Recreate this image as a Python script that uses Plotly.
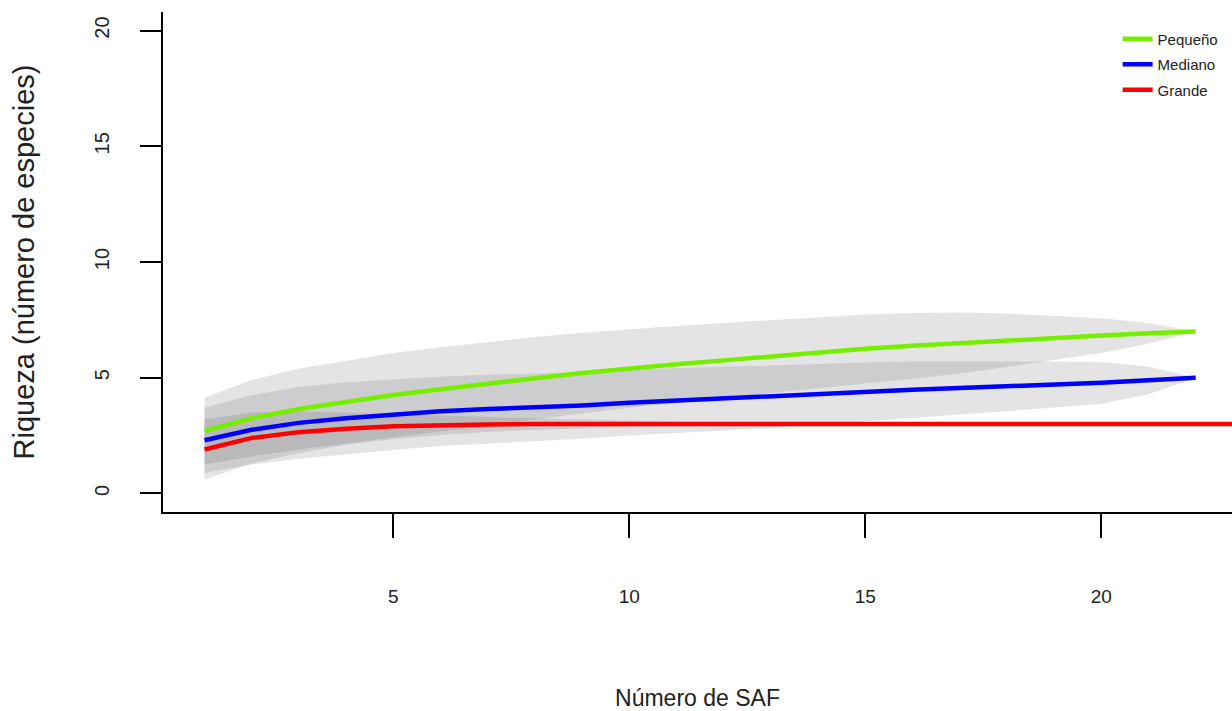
import plotly.graph_objects as go

# ---- data ----
sites_p = list(range(1, 23))
rich_p = [2.70, 3.25, 3.65, 3.95, 4.25, 4.50, 4.75, 4.98, 5.20, 5.40, 5.58,
          5.75, 5.92, 6.08, 6.25, 6.38, 6.50, 6.62, 6.72, 6.82, 6.92, 7.00]
ci_p = [1.45, 1.65, 1.75, 1.80, 1.82, 1.82, 1.80, 1.78, 1.74, 1.70, 1.66,
        1.62, 1.58, 1.53, 1.48, 1.42, 1.32, 1.15, 0.95, 0.75, 0.45, 0.00]

sites_m = list(range(1, 23))
rich_m = [2.30, 2.75, 3.05, 3.25, 3.40, 3.55, 3.65, 3.72, 3.80, 3.92, 4.02,
          4.10, 4.18, 4.28, 4.38, 4.48, 4.56, 4.63, 4.70, 4.78, 4.89, 5.00]
ci_m = [1.40, 1.50, 1.55, 1.55, 1.52, 1.50, 1.48, 1.46, 1.44, 1.42, 1.40,
        1.38, 1.35, 1.32, 1.28, 1.22, 1.15, 1.08, 1.00, 0.90, 0.60, 0.00]

sites_g = list(range(1, 26))
rich_g = [1.90, 2.40, 2.65, 2.80, 2.90, 2.95, 2.98, 3.00, 3.00, 3.00, 3.00,
          3.00, 3.00, 3.00, 3.00, 3.00, 3.00, 3.00, 3.00, 3.00, 3.00, 3.00,
          3.00, 3.00, 3.00]
ci_g = [1.30, 1.10, 0.90, 0.70, 0.55, 0.42, 0.32, 0.25, 0.18, 0.12, 0.08,
        0.05, 0.03, 0.00, 0.00, 0.00, 0.00, 0.00, 0.00, 0.00, 0.00, 0.00,
        0.00, 0.00, 0.00]

series_names = ["Pequeño", "Mediano", "Grande"]
series_colors = ["#76EE00", "#0000FF", "#FF0000"]
x_ticks = [5, 10, 15, 20]
y_ticks = [0, 5, 10, 15, 20]

SERIES = [
    (sites_p, rich_p, ci_p),
    (sites_m, rich_m, ci_m),
    (sites_g, rich_g, ci_g),
]

SANS = "Liberation Sans, Arial, sans-serif"
BAND = "rgba(73,73,82,0.15)"

fig = go.Figure()

# confidence polygons
for (xs, ys, cs) in SERIES:
    upper = [y + c for y, c in zip(ys, cs)]
    lower = [y - c for y, c in zip(ys, cs)]
    fig.add_trace(go.Scatter(
        x=xs + xs[::-1], y=upper + lower[::-1],
        fill="toself", fillcolor=BAND, mode="lines",
        line=dict(width=0, color="rgba(0,0,0,0)"),
        showlegend=False, hoverinfo="skip"))

# accumulation curves
for (xs, ys, cs), name, col in zip(SERIES, series_names, series_colors):
    fig.add_trace(go.Scatter(
        x=xs, y=ys, mode="lines", name=name, legendgroup=name,
        line=dict(color=col, width=4.5)))

fig.update_layout(
    width=1232, height=711,
    margin=dict(l=163, r=0, t=12, b=199),
    paper_bgcolor="white", plot_bgcolor="white",
    showlegend=True,
    legend=dict(x=0.893, y=0.979, xanchor="left", yanchor="top",
                font=dict(family=SANS, size=15, color="#222"),
                bgcolor="rgba(0,0,0,0)", itemwidth=30,
                tracegroupgap=3),
)

fig.update_xaxes(
    range=[0.12, 22.77], showgrid=False, zeroline=False,
    showline=True, linecolor="black", linewidth=1.5,
    ticks="outside", ticklen=24, tickwidth=1.5, tickcolor="black",
    tickvals=x_ticks, ticklabelstandoff=42,
    tickfont=dict(family=SANS, size=19, color="#222"),
    title=dict(text="Número de SAF", standoff=84,
               font=dict(family=SANS, size=23, color="#222")),
)
fig.update_yaxes(
    range=[-0.8, 20.8], showgrid=False, zeroline=False,
    showline=True, linecolor="black", linewidth=1.5,
    ticks="outside", ticklen=21, tickwidth=1.5, tickcolor="black",
    tickvals=y_ticks, tickangle=-90, ticklabelstandoff=23,
    tickfont=dict(family=SANS, size=20, color="#222"),
    title=dict(text="Riqueza (número de especies)", standoff=48,
               font=dict(family=SANS, size=29, color="#222")),
)

fig.write_html("out.html")
